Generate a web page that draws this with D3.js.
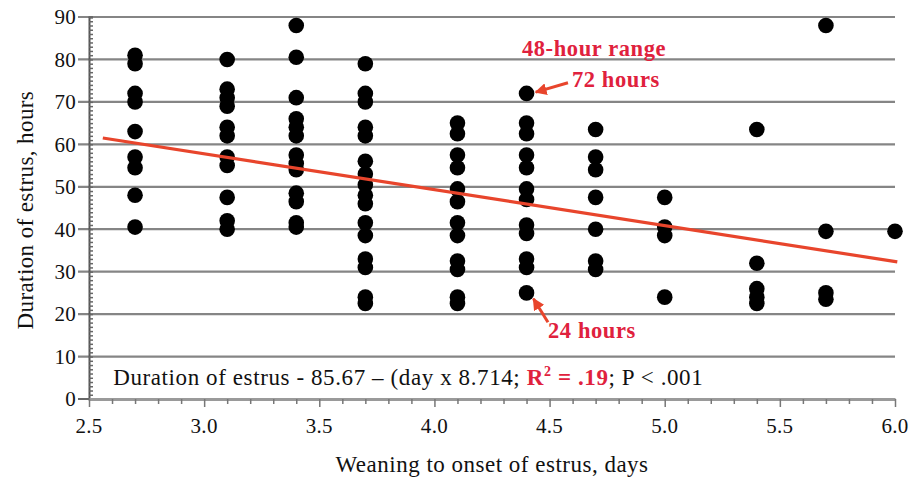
<!DOCTYPE html>
<html><head><meta charset="utf-8">
<script src="https://cdn.jsdelivr.net/npm/d3@7/dist/d3.min.js"></script>
<style>html,body{margin:0;padding:0;background:#fff;}svg{display:block;}</style>
</head><body>
<svg id="chart" width="919" height="481"></svg>
<script>
// ---- data ----
const days = [2.7, 3.1, 3.4, 3.7, 4.1, 4.4, 4.7, 5.0, 5.4, 5.7, 6.0];
const durations = [
  [81, 79, 72, 70, 63, 57, 54.5, 48, 40.5],
  [80, 73, 71, 69, 64, 62, 57, 55, 47.5, 42, 40],
  [88, 80.5, 71, 66, 64, 62, 57.5, 55.5, 54, 48.5, 46.5, 41.5, 40.5],
  [79, 72, 70, 64, 62, 56, 53, 50.5, 48, 46, 41.5, 38.5, 33, 31, 24, 22.5],
  [65, 62.5, 57.5, 54.5, 49.5, 46.5, 41.5, 38.5, 32.5, 30.5, 24, 22.5],
  [72, 65, 62.5, 57.5, 54.5, 49.5, 47, 41, 39, 33, 31, 25],
  [63.5, 57, 54, 47.5, 40, 32.5, 30.5],
  [47.5, 40.5, 38.5, 24],
  [63.5, 32, 26, 24, 22.5],
  [88, 39.5, 25, 23.5],
  [39.5]
];
const fitDays = [2.56, 6.01];
const fitHours = [61.5, 32.3];
const xTickLabels = ["2.5", "3.0", "3.5", "4.0", "4.5", "5.0", "5.5", "6.0"];
const yTickLabels = ["0", "10", "20", "30", "40", "50", "60", "70", "80", "90"];
const xTitle = "Weaning to onset of estrus, days";
const yTitle = "Duration of estrus, hours";

// ---- layout ----
const svg = d3.select("#chart");
const font = "'Liberation Serif', 'DejaVu Serif', serif";
const red = "#e0213d";
const x = d3.scaleLinear().domain([2.5, 6.0]).range([89, 895]);
const y = d3.scaleLinear().domain([0, 90]).range([399, 17]);

// gridlines
const yMajor = d3.range(10, 91, 10);
svg.append("g").selectAll("line").data(yMajor).join("line")
  .attr("x1", 78).attr("x2", x(6.0))
  .attr("y1", d => y(d)).attr("y2", d => y(d))
  .attr("stroke", "#858585").attr("stroke-width", 2.2);

// y axis
const yAxis = d3.axisRight(y).tickValues(d3.range(0, 91, 1)).tickSize(4).tickFormat("");
const gy = svg.append("g").attr("transform", `translate(${x(2.5)},0)`).call(yAxis);
gy.select(".domain").attr("stroke", "#555").attr("stroke-width", 2);
gy.selectAll(".tick line").attr("stroke", "#666").attr("stroke-width", 1.5);
svg.append("g").selectAll("text").data(yTickLabels).join("text")
  .attr("x", 76).attr("y", d => y(+d)).attr("dy", "0.35em")
  .attr("text-anchor", "end").attr("font-family", font).attr("font-size", 21)
  .attr("letter-spacing", 0.3).attr("fill", "#111").text(d => d);
svg.append("line").attr("x1", 78).attr("x2", x(2.5)).attr("y1", y(0)).attr("y2", y(0))
  .attr("stroke", "#666").attr("stroke-width", 2);

// x axis
const xAxis = d3.axisBottom(x).tickValues(d3.range(25, 61, 1).map(d => d / 10))
  .tickSizeInner(5).tickSizeOuter(0).tickFormat("");
const gx = svg.append("g").attr("transform", `translate(0,${y(0)})`).call(xAxis);
gx.select(".domain").attr("stroke", "#9a9a9a").attr("stroke-width", 3);
gx.selectAll(".tick line").attr("stroke", "#777").attr("stroke-width", 1.5)
  .attr("y2", d => (Math.round(d * 10) % 5 === 0 ? 8 : 5));
svg.append("g").selectAll("text").data(xTickLabels).join("text")
  .attr("x", d => x(+d)).attr("y", 433)
  .attr("text-anchor", "middle").attr("font-family", font).attr("font-size", 21)
  .attr("letter-spacing", 0.3).attr("fill", "#111").text(d => d);

// titles
svg.append("text").attr("x", x(4.25)).attr("y", 472).attr("text-anchor", "middle")
  .attr("font-family", font).attr("font-size", 23).attr("letter-spacing", 0.5)
  .attr("fill", "#111").text(xTitle);
svg.append("text").attr("transform", `translate(33,${y(44.5)}) rotate(-90)`)
  .attr("text-anchor", "middle").attr("font-family", font).attr("font-size", 23)
  .attr("letter-spacing", 0.4).attr("fill", "#111").text(yTitle);

// points
const pts = [];
days.forEach((d, i) => durations[i].forEach(v => pts.push([d, v])));
svg.append("g").selectAll("circle").data(pts).join("circle")
  .attr("cx", d => x(d[0])).attr("cy", d => y(d[1])).attr("r", 7.8)
  .attr("fill", "#000");

// regression line
svg.append("line")
  .attr("x1", x(fitDays[0])).attr("y1", y(fitHours[0]))
  .attr("x2", x(fitDays[1])).attr("y2", y(fitHours[1]))
  .attr("stroke", "#e8452c").attr("stroke-width", 3.2);

// equation text
const eq = svg.append("text").attr("x", x(2.605)).attr("y", y(3.3))
  .attr("font-family", font).attr("font-size", 23).attr("letter-spacing", 0.6).attr("fill", "#111");
eq.append("tspan").text("Duration of estrus - 85.67 \u2013 (day x 8.714; ");
eq.append("tspan").attr("fill", red).attr("font-weight", "bold").text("R");
eq.append("tspan").attr("fill", red).attr("font-weight", "bold").attr("font-size", 14).attr("dy", -9).text("2");
eq.append("tspan").attr("fill", red).attr("font-weight", "bold").attr("dy", 9).text(" = .19");
eq.append("tspan").text("; P < .001");

// annotations
const ann = svg.append("g").attr("font-family", font).attr("font-size", 22.5)
  .attr("letter-spacing", 0.6).attr("font-weight", "bold").attr("fill", red);
ann.append("text").attr("x", x(4.693)).attr("y", y(80.8)).attr("text-anchor", "middle").text("48-hour range");
ann.append("text").attr("x", x(4.597)).attr("y", y(73.5)).text("72 hours");
ann.append("text").attr("x", x(4.493)).attr("y", y(14.4)).text("24 hours");

const defs = svg.append("defs");
defs.append("marker").attr("id", "ah").attr("viewBox", "0 0 10 10")
  .attr("refX", 9).attr("refY", 5).attr("markerWidth", 4).attr("markerHeight", 4)
  .attr("orient", "auto").append("path").attr("d", "M0,0L10,5L0,10z").attr("fill", "#e8452c");
const arrows = [[[4.58, 74.5], [4.44, 72.3]], [[4.493, 18.1], [4.43, 23.6]]];
svg.append("g").selectAll("line").data(arrows).join("line")
  .attr("x1", d => x(d[0][0])).attr("y1", d => y(d[0][1]))
  .attr("x2", d => x(d[1][0])).attr("y2", d => y(d[1][1]))
  .attr("stroke", "#e8452c").attr("stroke-width", 3).attr("marker-end", "url(#ah)");
</script>
</body></html>
